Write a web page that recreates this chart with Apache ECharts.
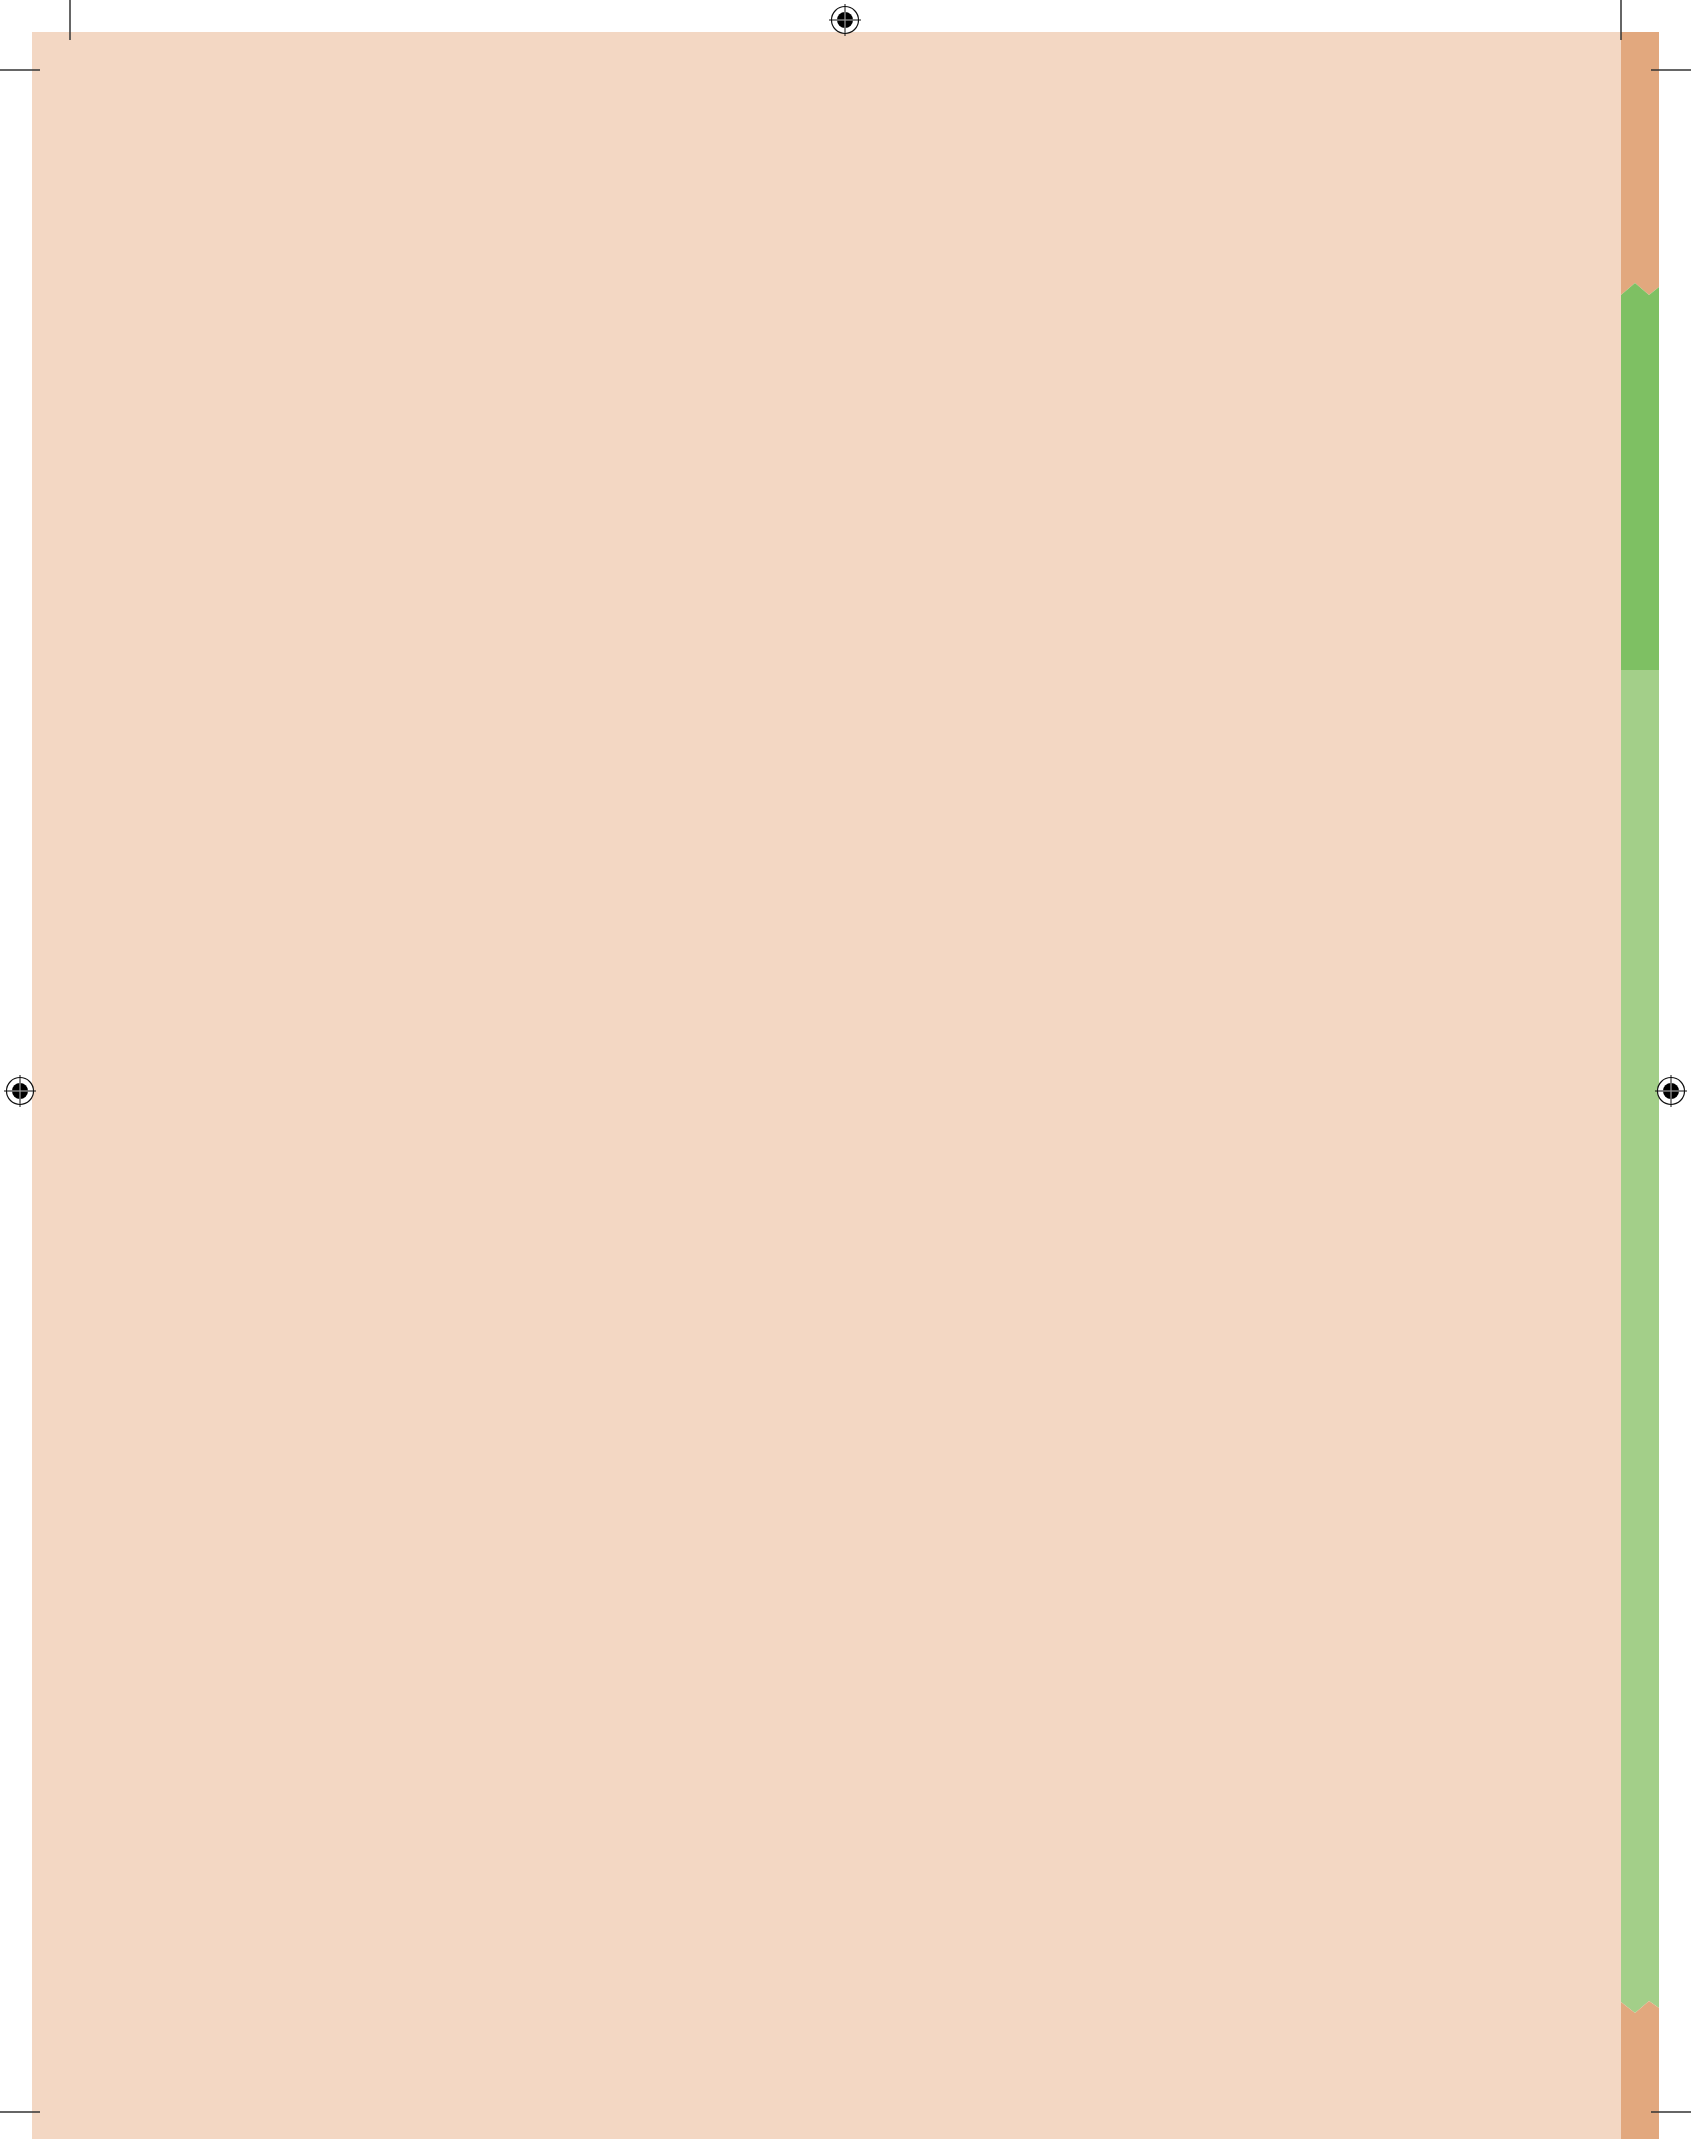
<!DOCTYPE html>
<html>
<head>
<meta charset="utf-8">
<script src="https://cdn.jsdelivr.net/npm/echarts@6/dist/echarts.min.js"></script>
<style>html,body{margin:0;padding:0;background:#fff;}#c{width:1691px;height:2139px;}</style>
</head>
<body>
<div id="c"></div>
<script>
// Page units (same as pixels of the sheet)
const sheetWidth = 1691;
const sheetHeight = 2139;
// Trimmed page (peach) area
const pageRect = [32, 32, 1621, 2139];          // x0, y0, x1, y1
// Right-side tab strip
const stripX = [1621, 1659];
const stripTop = 32;
const topZigzag = [[1621, 295], [1635, 283], [1649, 295], [1659, 287]];
const greenSplitY = 670;
const bottomZigzag = [[1621, 2002], [1635, 2013], [1649, 2001], [1659, 2008]];
// Crop marks: [x0, y0, x1, y1]
const cropMarks = [
  [70, 0, 70, 40], [0, 70, 40, 70],
  [1621, 0, 1621, 40], [1651, 70, 1691, 70],
  [0, 2112, 40, 2112], [1651, 2112, 1691, 2112]
];
// Registration targets: [x, y]
const regMarks = [[845, 20], [20, 1091], [1671, 1091]];

const colors = {
  peach: '#F3D7C3', orange: '#E2A87E', darkGreen: '#7EC063', lightGreen: '#A3CF89'
};

function poly(api, pts, fill) {
  return { type: 'polygon', shape: { points: pts.map(p => api.coord(p)) }, style: { fill: fill }, silent: true };
}

const shapes = ['page', 'orangeTop', 'darkGreen', 'lightGreen', 'orangeBottom', 'crop', 'reg'];

const chart = echarts.init(document.getElementById('c'), null, { renderer: 'canvas' });
chart.setOption({
  backgroundColor: '#ffffff',
  animation: false,
  grid: { left: 0, right: 0, top: 0, bottom: 0 },
  xAxis: { type: 'value', min: 0, max: sheetWidth, show: false },
  yAxis: { type: 'value', min: 0, max: sheetHeight, inverse: true, show: false },
  series: [{
    type: 'custom',
    coordinateSystem: 'cartesian2d',
    data: shapes.map((s, i) => [i]),
    renderItem: function (params, api) {
      const s = shapes[params.dataIndex];
      const [sx0, sx1] = stripX;
      if (s === 'page') {
        const [x0, y0, x1, y1] = pageRect;
        return poly(api, [[x0, y0], [x1, y0], [x1, y1], [x0, y1]], colors.peach);
      }
      if (s === 'orangeTop') {
        return poly(api, [[sx0, stripTop], [sx1, stripTop]].concat(topZigzag.slice().reverse()), colors.orange);
      }
      if (s === 'darkGreen') {
        return poly(api, topZigzag.concat([[sx1, greenSplitY], [sx0, greenSplitY]]), colors.darkGreen);
      }
      if (s === 'lightGreen') {
        return poly(api, [[sx0, greenSplitY], [sx1, greenSplitY]].concat(bottomZigzag.slice().reverse()), colors.lightGreen);
      }
      if (s === 'orangeBottom') {
        return poly(api, bottomZigzag.concat([[sx1, sheetHeight], [sx0, sheetHeight]]), colors.orange);
      }
      if (s === 'crop') {
        return {
          type: 'group',
          children: cropMarks.map(m => {
            const a = api.coord([m[0], m[1]]), b = api.coord([m[2], m[3]]);
            return { type: 'line', shape: { x1: a[0], y1: a[1], x2: b[0], y2: b[1] }, style: { stroke: '#333333', lineWidth: 1.5 } };
          })
        };
      }
      if (s === 'reg') {
        const children = [];
        regMarks.forEach(m => {
          const c = api.coord(m);
          children.push({ type: 'circle', shape: { cx: c[0], cy: c[1], r: 13.5 }, style: { fill: '#ffffff', stroke: '#111111', lineWidth: 1.2 } });
          children.push({ type: 'circle', shape: { cx: c[0], cy: c[1], r: 8 }, style: { fill: '#000000' } });
          children.push({ type: 'line', shape: { x1: c[0] - 16, y1: c[1], x2: c[0] + 16, y2: c[1] }, style: { stroke: '#111111', lineWidth: 1 } });
          children.push({ type: 'line', shape: { x1: c[0], y1: c[1] - 16, x2: c[0], y2: c[1] + 16 }, style: { stroke: '#111111', lineWidth: 1 } });
          children.push({ type: 'line', shape: { x1: c[0] - 8, y1: c[1], x2: c[0] + 8, y2: c[1] }, style: { stroke: '#9a9a9a', lineWidth: 1.2 } });
          children.push({ type: 'line', shape: { x1: c[0], y1: c[1] - 8, x2: c[0], y2: c[1] + 8 }, style: { stroke: '#9a9a9a', lineWidth: 1.2 } });
        });
        return { type: 'group', children: children };
      }
      return null;
    }
  }]
});
</script>
</body>
</html>
